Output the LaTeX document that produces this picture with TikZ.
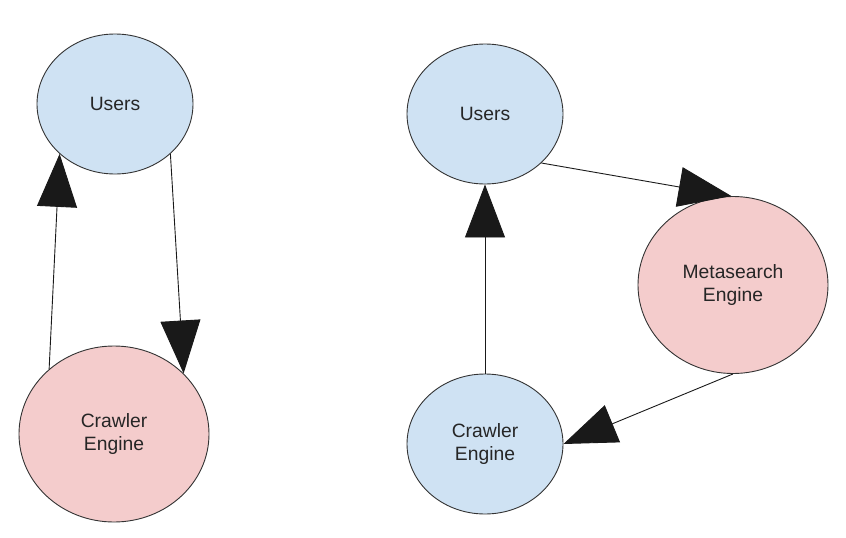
\documentclass[tikz,border=0pt]{standalone}
\usepackage{fontspec}
\setmainfont{Liberation Sans}
\usetikzlibrary{arrows.meta,shapes.geometric}
\definecolor{lblue}{HTML}{CFE2F3}
\definecolor{lpink}{HTML}{F4CCCC}
\begin{document}
\begin{tikzpicture}[x=1pt,y=-1pt,
  blob/.style={ellipse, draw=black!80, line width=0.9pt, inner sep=0pt, align=center,
    font=\fontsize{19.3}{22.5}\selectfont, text=black!85},
  conn/.style={line width=0.9pt, draw=black!90, -{Triangle[length=53pt,width=40pt]}}]
\useasboundingbox (0,0) rectangle (846,538);
% left
\node[blob, fill=lblue, minimum width=156pt, minimum height=140pt] (lu) at (115,104) {Users};
\node[blob, fill=lpink, minimum width=190pt, minimum height=176pt] (lc) at (114,434) {Crawler\\Engine};
% right
\node[blob, fill=lblue, minimum width=156pt, minimum height=140pt] (ru) at (485,114) {Users};
\node[blob, fill=lpink, minimum width=190pt, minimum height=177pt] (me) at (733,285) {Metasearch\\Engine};
\node[blob, fill=lblue, minimum width=156pt, minimum height=140pt] (rc) at (485,444) {Crawler\\Engine};
% connectors
\draw[conn] (lc.135.9) -- (lu.222.3);
\draw[conn] (lu.318.8) -- (lc.41.9);
\draw[conn] (ru.319.3) -- (me.91);
\draw[conn] (me.south) -- (rc.east);
\draw[conn] (rc.north) -- (ru.south);
\end{tikzpicture}
\end{document}
